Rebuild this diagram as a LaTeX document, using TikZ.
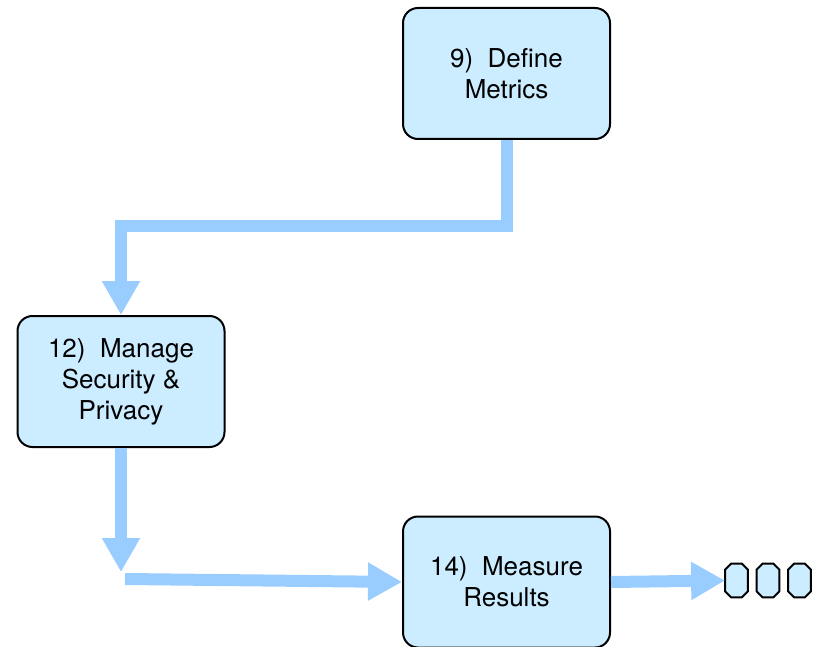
\documentclass[tikz,border=0pt]{standalone}
\usepackage{fontspec}
\setmainfont{TeX Gyre Heros}
\usetikzlibrary{arrows.meta}

\definecolor{stepfill}{RGB}{204,236,255}
\definecolor{flowblue}{RGB}{153,204,255}

\tikzset{
  stepbox/.style={draw=black, line width=1pt, fill=stepfill, rounded corners=7.5pt,
    minimum width=103.5pt, minimum height=65.5pt, align=center,
    font=\fontsize{13}{15.5}\selectfont},
  flow/.style={draw=flowblue, line width=6pt, line join=miter,
    -{Triangle[length=17pt,width=18pt]}},
  more/.style={minimum width=11pt, minimum height=16.5pt, inner sep=0pt},
  moreline/.style={draw=black, line width=1pt, fill=stepfill},
}

\begin{document}
\begin{tikzpicture}[x=0.5pt,y=-0.5pt]
    \useasboundingbox (0,0) rectangle (819,647);

    \node[stepbox] (metrics) at (506.5,73.5) {9)\ \ Define\\Metrics};
    \node[stepbox] (manage) at (121,381.5) {12)\ \ Manage\\Security \&\\Privacy};
    \node[stepbox] (measure) at (506.5,582) {14)\ \ Measure\\Results};

    \node[more] (more1) at (736.5,580.5) {};
    \node[more] (more2) at (768,580.5) {};
    \node[more] (more3) at (799.5,580.5) {};
    \foreach \n in {more1,more2,more3}
      \draw[moreline] ([yshift=-3pt]\n.north west) -- ([xshift=3pt]\n.north west)
        -- ([xshift=-3pt]\n.north east) -- ([yshift=-3pt]\n.north east)
        -- ([yshift=3pt]\n.south east) -- ([xshift=-3pt]\n.south east)
        -- ([xshift=3pt]\n.south west) -- ([yshift=3pt]\n.south west) -- cycle;

    \coordinate (down) at (121,572);
    \coordinate (start) at (125,579);

    \draw[flow] (metrics.south) -- (metrics.south |- 0,226) -| (manage.north);
    \draw[flow] (manage.south) -- (down);
    \draw[flow] (start) -- (measure.west);
    \draw[flow] (measure.east) -- (more1.west);
  \end{tikzpicture}
\end{document}
